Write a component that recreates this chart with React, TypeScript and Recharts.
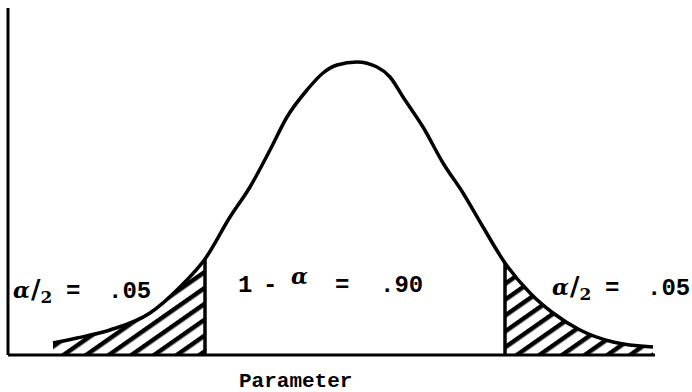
import {
  ComposedChart,
  Line,
  Area,
  XAxis,
  YAxis,
  ReferenceLine,
  ReferenceDot,
} from "recharts";

// curve (x = distance from the y axis, y = height above the base line)
const curveX = [45, 69, 102, 142, 172, 197, 222, 242, 262, 279, 299, 315, 329, 349, 369, 382, 395, 415, 435, 455, 475, 497, 522, 545, 572, 605, 645];
const curveY = [12, 17, 25, 42, 68, 96, 138, 168, 205, 238, 265, 282, 290, 293, 288, 278, 258, 228, 192, 162, 128, 92, 62, 42, 25, 13, 8];

// critical values cutting off the two tails
const critX = [197, 497];
const tailProb = ".05";
const coverage = ".90";
const axisName = "Parameter";

const data = curveX.map((x, i) => ({
  x,
  y: curveY[i],
  left: x <= critX[0] ? curveY[i] : null,
  right: x >= critX[1] ? curveY[i] : null,
}));

const heightAt = (cx: number) => curveY[curveX.indexOf(cx)];

const mono = "Liberation Mono, Courier New, monospace";
const greek = "DejaVu Serif, serif";

const TailLabel = ({ x, y }: { x: number; y: number }) => (
  <text x={x} y={y} fontFamily={mono} fontSize={24} fontWeight="bold" fill="#000">
    <tspan fontFamily={greek} fontStyle="italic" fontWeight="bold" fontSize={22}>
      α
    </tspan>
    <tspan fontFamily={greek} fontSize={26} dx={1}>
      /
    </tspan>
    <tspan fontFamily={greek} fontWeight="bold" fontSize={17} dy={5}>
      2
    </tspan>
    <tspan x={x + 53} dy={-5}>
      =
    </tspan>
    <tspan x={x + 95}>{tailProb}</tspan>
  </text>
);

const MidLabel = ({ x, y }: { x: number; y: number }) => (
  <text x={x} y={y} fontFamily={mono} fontSize={24} fontWeight="bold" fill="#000">
    <tspan>1</tspan>
    <tspan x={x + 25}>-</tspan>
    <tspan x={x + 53} fontFamily={greek} fontStyle="italic" fontWeight="bold" fontSize={22} dy={-8}>
      α
    </tspan>
    <tspan x={x + 97} dy={8}>
      =
    </tspan>
    <tspan x={x + 142}>{coverage}</tspan>
  </text>
);

const at = (content: any) => ({ content });

export default function App() {
  return (
    <div style={{ position: "absolute", left: 0, top: 0, background: "#fff" }}>
      <ComposedChart
        width={692}
        height={392}
        data={data}
        margin={{ top: 8, right: 37, left: 0, bottom: 0 }}
      >
        <defs>
          <pattern
            id="hatch"
            patternUnits="userSpaceOnUse"
            width={13}
            height={13}
            patternTransform="rotate(-35)"
          >
            <rect x={0} y={0} width={13} height={4.5} fill="#000" />
          </pattern>
        </defs>
        <XAxis
          type="number"
          dataKey="x"
          domain={[0, 647]}
          tick={false}
          tickLine={false}
          axisLine={{ stroke: "#000", strokeWidth: 3 }}
          height={37}
        />
        <YAxis
          type="number"
          domain={[0, 347]}
          tick={false}
          tickLine={false}
          axisLine={{ stroke: "#000", strokeWidth: 3 }}
          width={8}
        />
        <Area
          dataKey="left"
          type="monotone"
          fill="url(#hatch)"
          fillOpacity={1}
          stroke="none"
          isAnimationActive={false}
        />
        <Area
          dataKey="right"
          type="monotone"
          fill="url(#hatch)"
          fillOpacity={1}
          stroke="none"
          isAnimationActive={false}
        />
        <Line
          dataKey="y"
          type="monotone"
          stroke="#000"
          strokeWidth={3.5}
          dot={false}
          isAnimationActive={false}
        />
        {critX.map((cx) => (
          <ReferenceLine
            key={cx}
            segment={[
              { x: cx, y: 0 },
              { x: cx, y: heightAt(cx) },
            ]}
            stroke="#000"
            strokeWidth={3.5}
          />
        ))}
        <ReferenceDot
          x={5}
          y={57}
          r={0}
          fill="none"
          stroke="none"
          ifOverflow="visible"
          label={at((p: any) => <TailLabel x={p.viewBox.x} y={p.viewBox.y} />)}
        />
        <ReferenceDot
          x={230}
          y={63}
          r={0}
          fill="none"
          stroke="none"
          ifOverflow="visible"
          label={at((p: any) => <MidLabel x={p.viewBox.x} y={p.viewBox.y} />)}
        />
        <ReferenceDot
          x={544}
          y={60}
          r={0}
          fill="none"
          stroke="none"
          ifOverflow="visible"
          label={at((p: any) => <TailLabel x={p.viewBox.x} y={p.viewBox.y} />)}
        />
        <ReferenceDot
          x={231}
          y={-32}
          r={0}
          fill="none"
          stroke="none"
          ifOverflow="visible"
          label={at((p: any) => (
            <text
              x={p.viewBox.x}
              y={p.viewBox.y}
              fontFamily={mono}
              fontSize={21}
              fontWeight="bold"
              fill="#000"
            >
              {axisName}
            </text>
          ))}
        />
      </ComposedChart>
    </div>
  );
}
